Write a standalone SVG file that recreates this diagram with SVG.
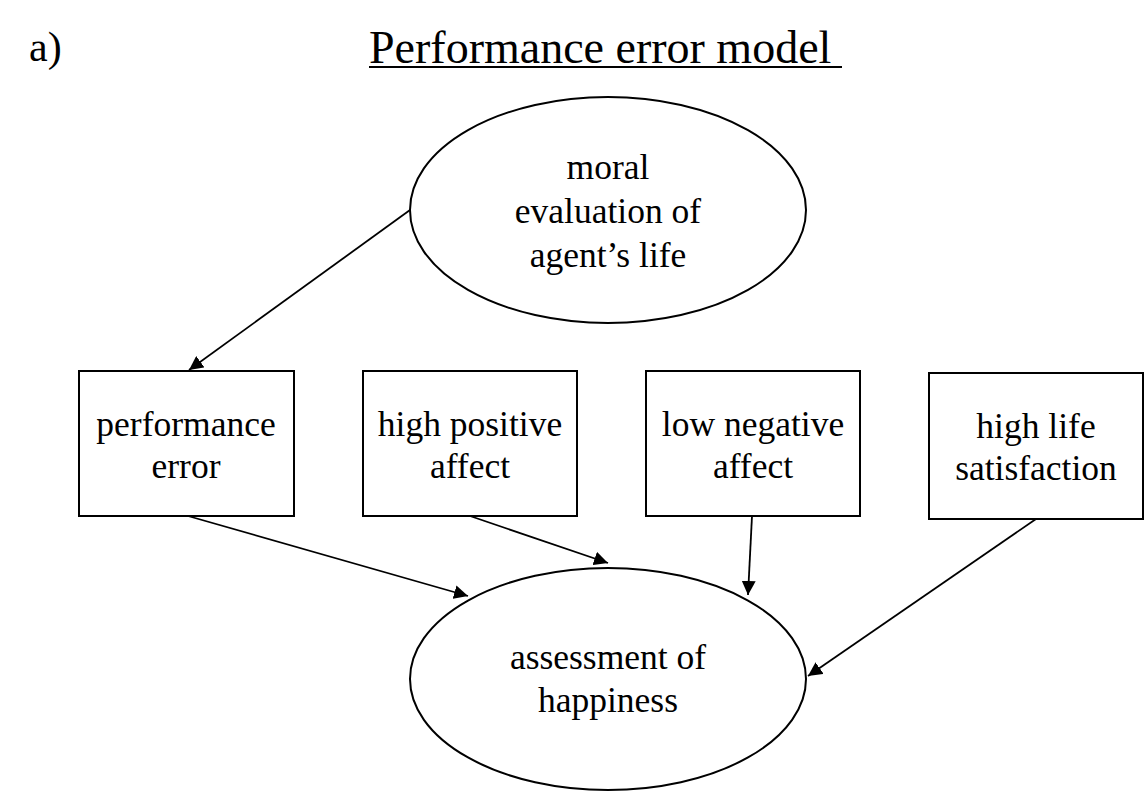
<svg xmlns="http://www.w3.org/2000/svg" width="1144" height="792" viewBox="0 0 1144 792">
<style>
text{font-family:'Liberation Serif','DejaVu Serif',serif;fill:#000;text-anchor:middle;font-size:35.5px}
.shape{fill:#fff;stroke:#000;stroke-width:2}
.conn line{stroke:#000;stroke-width:1.8}
</style>
<defs>
<marker id="ah" viewBox="0 0 10 10" refX="10" refY="5" markerWidth="14" markerHeight="14" markerUnits="userSpaceOnUse" orient="auto">
<path d="M0,0 L10,5 L0,10 z" fill="#000"/>
</marker>
</defs>
<rect width="1144" height="792" fill="#fff"/>
<text x="29" y="61" style="text-anchor:start;font-size:42px">a)</text>
<text x="369" y="63" style="text-anchor:start;font-size:46px">Performance error model</text>
<line x1="369" y1="67" x2="842" y2="67" stroke="#000" stroke-width="2"/>
<g id="moral">
<ellipse class="shape" cx="608" cy="210" rx="198" ry="113"/>
<text x="608" y="179">moral</text>
<text x="608" y="223">evaluation of</text>
<text x="608" y="267">agent’s life</text>
</g>
<g id="perf">
<rect class="shape" x="79" y="371" width="215" height="145"/>
<text x="186" y="436">performance</text>
<text x="186" y="478">error</text>
</g>
<g id="pos">
<rect class="shape" x="363" y="371" width="214" height="145"/>
<text x="470" y="436">high positive</text>
<text x="470" y="478">affect</text>
</g>
<g id="neg">
<rect class="shape" x="646" y="371" width="214" height="145"/>
<text x="753" y="436">low negative</text>
<text x="753" y="478">affect</text>
</g>
<g id="life">
<rect class="shape" x="929" y="373" width="214" height="146"/>
<text x="1036" y="438">high life</text>
<text x="1036" y="480">satisfaction</text>
</g>
<g id="happy">
<ellipse class="shape" cx="608" cy="679" rx="198" ry="111"/>
<text x="608" y="669">assessment of</text>
<text x="608" y="712">happiness</text>
</g>
<g class="conn">
<line x1="410" y1="210" x2="189" y2="370" marker-end="url(#ah)"/>
<line x1="188" y1="516" x2="468" y2="596" marker-end="url(#ah)"/>
<line x1="470" y1="516" x2="608" y2="563" marker-end="url(#ah)"/>
<line x1="752" y1="516" x2="748" y2="595" marker-end="url(#ah)"/>
<line x1="1036" y1="519" x2="808" y2="676" marker-end="url(#ah)"/>
</g>
</svg>
